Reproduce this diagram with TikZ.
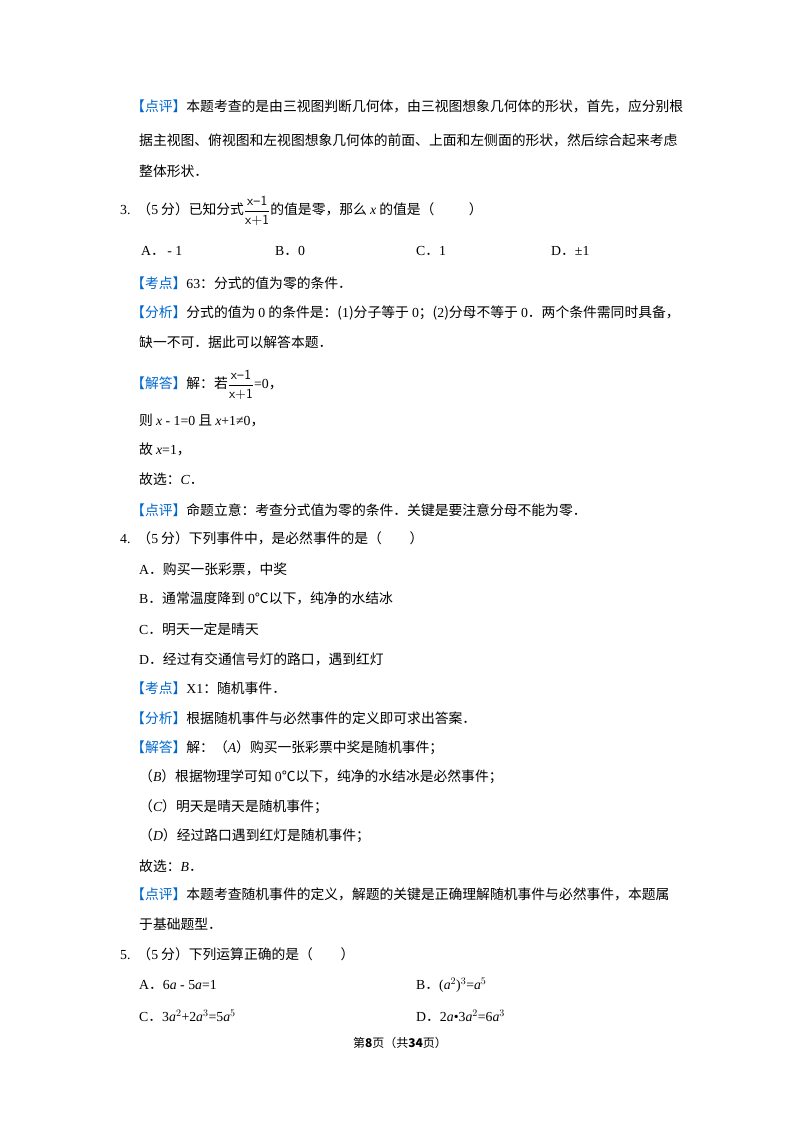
\documentclass[tikz,border=0pt]{standalone}
\usepackage{fontspec}
\setmainfont{Noto Sans CJK SC}
\newfontfamily\lat{Liberation Serif}
\definecolor{kb}{RGB}{0,102,204}
\newcommand\tg[1]{{\color{kb}【#1】}}
\newcommand\vi[1]{{\lat\itshape #1}}
\newcommand\fr{\raisebox{-1pt}{$\displaystyle\frac{\mathsf{x\hbox{--}1}}{\mathsf{x{+}1}}$}}
\tikzset{t/.style={anchor=west,inner sep=0pt,font=\fontsize{13.8}{16}\selectfont}}
\newcommand\Ln[4]{\node[t] (#1) at (#2pt,-#3pt) {#4};}
\begin{document}
\begin{tikzpicture}
\useasboundingbox (0,0) rectangle (800pt,-1132pt);
\Ln{a1}{131}{106}{\tg{点评}本题考查的是由三视图判断几何体，由三视图想象几何体的形状，首先，应分别根}
\Ln{a2}{139}{140}{据主视图、俯视图和左视图想象几何体的前面、上面和左侧面的形状，然后综合起来考虑}
\Ln{a3}{139}{171}{整体形状．}
\Ln{q3}{120}{211}{{\lat 3.}\enspace （{\lat 5} 分）已知分式\fr 的值是零，那么 \vi{x} 的值是（\qquad\enspace）}
\Ln{o3a}{141}{251}{{\lat A}．{\lat\,- 1}}
\Ln{o3b}{275}{251}{{\lat B}．{\lat 0}}
\Ln{o3c}{416}{251}{{\lat C}．{\lat 1}}
\Ln{o3d}{551}{251}{{\lat D}．{\lat ±1}}
\Ln{k3}{131}{283}{\tg{考点}{\lat 63}：分式的值为零的条件．}
\Ln{f3}{131}{313}{\tg{分析}分式的值为 {\lat 0} 的条件是：({\lat 1})分子等于 {\lat 0}；({\lat 2})分母不等于 {\lat 0}．两个条件需同时具备，}
\Ln{f3b}{139}{342}{缺一不可．据此可以解答本题．}
\Ln{j3}{131}{385}{\tg{解答}解：若\fr{\lat =0}，}
\Ln{j3b}{139}{420}{则 {\lat\itshape x\upshape\ - 1=0} 且 {\lat\itshape x\upshape +1≠0}，}
\Ln{j3c}{139}{449}{故 {\lat\itshape x\upshape =1}，}
\Ln{j3d}{139}{479}{故选：\vi{C}．}
\Ln{p3}{131}{510}{\tg{点评}命题立意：考查分式值为零的条件．关键是要注意分母不能为零．}
\Ln{q4}{120}{538}{{\lat 4.}\enspace （{\lat 5} 分）下列事件中，是必然事件的是（\qquad）}
\Ln{o4a}{139}{569}{{\lat A}．购买一张彩票，中奖}
\Ln{o4b}{139}{598}{{\lat B}．通常温度降到 {\lat 0}℃以下，纯净的水结冰}
\Ln{o4c}{139}{629}{{\lat C}．明天一定是晴天}
\Ln{o4d}{139}{659}{{\lat D}．经过有交通信号灯的路口，遇到红灯}
\Ln{k4}{131}{688}{\tg{考点}{\lat X1}：随机事件．}
\Ln{f4}{131}{718}{\tg{分析}根据随机事件与必然事件的定义即可求出答案．}
\Ln{j4}{131}{748}{\tg{解答}解：（\vi{A}）购买一张彩票中奖是随机事件；}
\Ln{j4b}{139}{777}{（\vi{B}）根据物理学可知 {\lat 0}℃以下，纯净的水结冰是必然事件；}
\Ln{j4c}{139}{807}{（\vi{C}）明天是晴天是随机事件；}
\Ln{j4d}{139}{836}{（\vi{D}）经过路口遇到红灯是随机事件；}
\Ln{j4e}{139}{866}{故选：\vi{B}．}
\Ln{p4}{131}{894}{\tg{点评}本题考查随机事件的定义，解题的关键是正确理解随机事件与必然事件，本题属}
\Ln{p4b}{139}{924}{于基础题型．}
\Ln{q5}{120}{954}{{\lat 5.}\enspace （{\lat 5} 分）下列运算正确的是（\qquad）}
\Ln{o5a}{139}{985}{{\lat A}．{\lat 6\itshape a\upshape\ - 5\itshape a\upshape =1}}
\Ln{o5b}{416}{985}{{\lat B}．{\lat (\itshape a\upshape$^{2}$)$^{3}$=\itshape a\upshape$^{5}$}}
\Ln{o5c}{139}{1016}{{\lat C}．{\lat 3\itshape a\upshape$^{2}$+2\itshape a\upshape$^{3}$=5\itshape a\upshape$^{5}$}}
\Ln{o5d}{416}{1016}{{\lat D}．{\lat 2\itshape a\upshape•3\itshape a\upshape$^{2}$=6\itshape a\upshape$^{3}$}}
\node[font=\fontsize{12}{14}\selectfont,inner sep=0pt] (ft) at (400pt,-1043pt) {第\textbf{8}页（共\textbf{34}页）};
\end{tikzpicture}
\end{document}
